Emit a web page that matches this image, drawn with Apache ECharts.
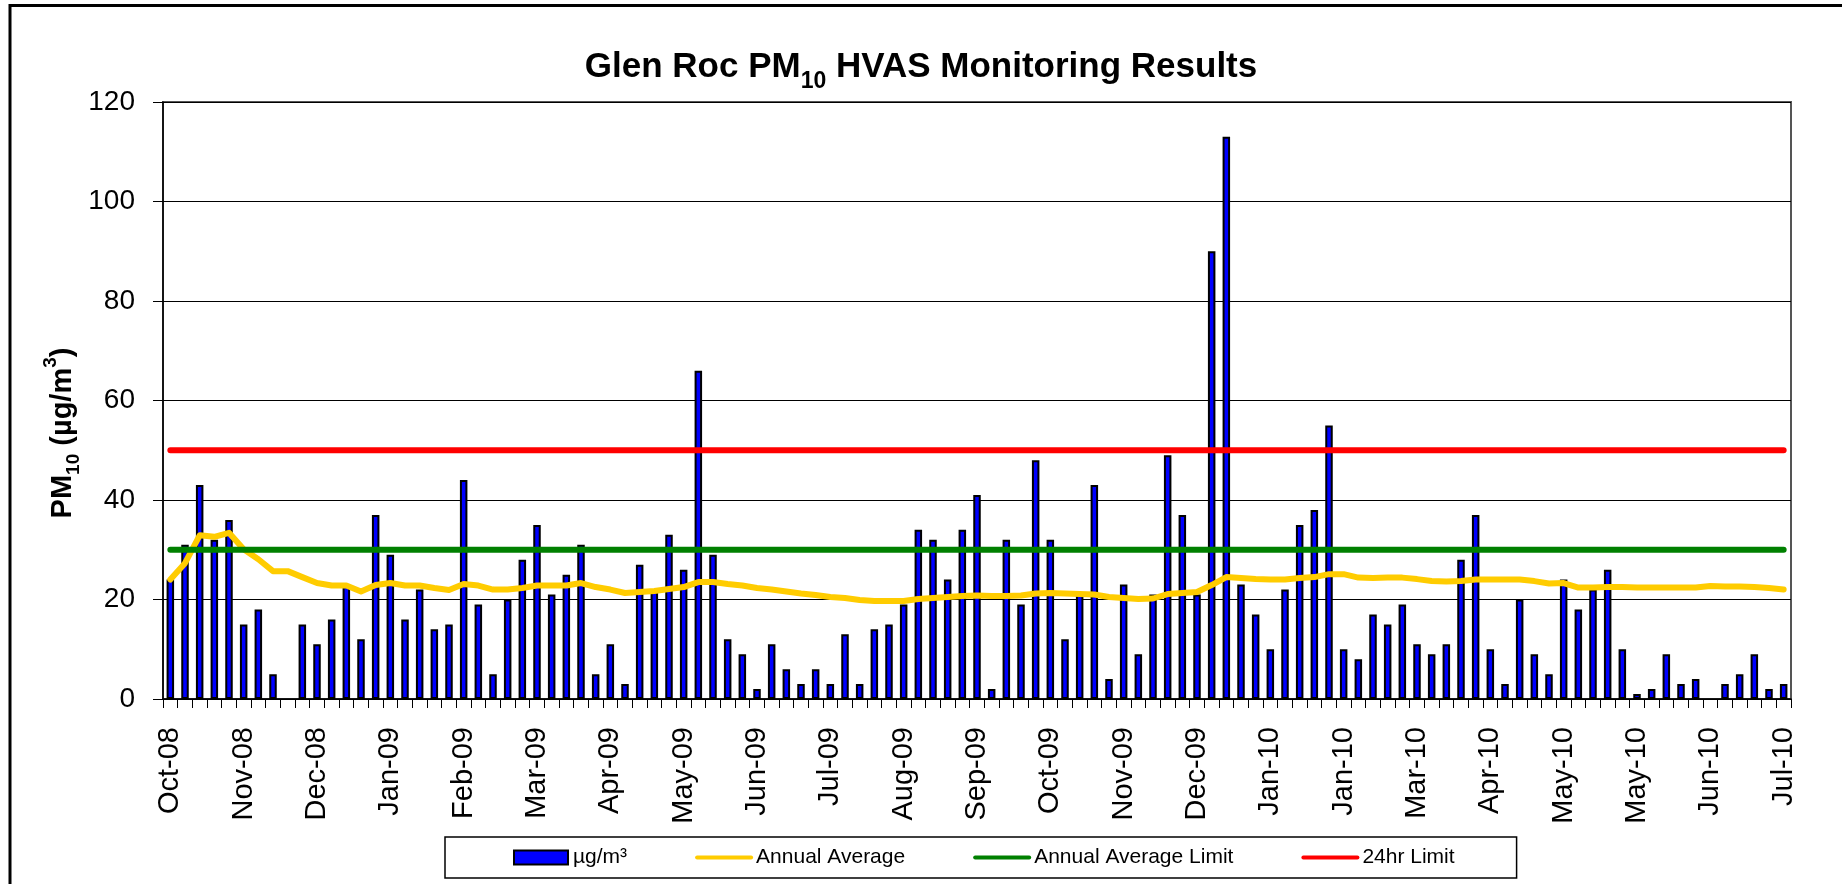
<!DOCTYPE html>
<html>
<head>
<meta charset="utf-8">
<title>Glen Roc PM10 HVAS Monitoring Results</title>
<script src="https://cdn.jsdelivr.net/npm/echarts@6/dist/echarts.min.js"></script>
<style>
	html,body{margin:0;padding:0;background:#fff;}
	#chart{width:1842px;height:884px;}
</style>
</head>
<body>
<div id="chart"></div>
<script>
//x轴刻度标签，每5个样本一个
var tickLabels = ["Oct-08","Nov-08","Dec-08","Jan-09","Feb-09","Mar-09","Apr-09","May-09","Jun-09","Jul-09","Aug-09","Sep-09",
	"Oct-09","Nov-09","Dec-09","Jan-10","Jan-10","Mar-10","Apr-10","May-10","May-10","Jun-10","Jul-10"];
//PM10 每次采样结果 µg/m³ (null = 无数据)
var pm10 = [24,31,43,32,36,15,18,5,null,15,
	11,16,23,12,37,29,16,22,14,15,
	44,19,5,20,28,35,21,25,31,5,
	11,3,27,22,33,26,66,29,12,9,
	2,11,6,3,6,3,13,3,14,15,
	19,34,32,24,34,41,2,32,19,48,
	32,12,21,43,4,23,9,21,49,37,
	21,90,113,23,17,10,22,35,38,55,
	10,8,17,15,19,11,9,11,28,37,
	10,3,20,9,5,24,18,22,26,10,
	1,2,9,3,4,null,3,5,9,2,3];
//年平均(滚动)
var annualAvg = [24,27.3,32.9,32.6,33.4,30.1,28.1,25.7,25.7,24.5,
	23.3,22.8,22.8,21.6,22.9,23.3,22.8,22.8,22.3,21.9,
	23.1,22.8,22.0,22.0,22.3,22.8,22.8,22.8,23.3,22.5,
	22.0,21.3,21.5,21.7,22.1,22.5,23.5,23.5,23.1,22.8,
	22.3,22.0,21.6,21.2,20.9,20.5,20.3,19.9,19.7,19.7,
	19.7,20.1,20.3,20.5,20.7,20.8,20.7,20.7,20.8,21.2,
	21.3,21.2,21.1,21.0,20.5,20.3,20.1,20.2,21.1,21.3,
	21.5,22.9,24.5,24.3,24.1,24.0,24.0,24.3,24.5,25.1,
	25.1,24.4,24.3,24.4,24.4,24.1,23.7,23.6,23.7,24.0,
	24.0,24.0,24.0,23.7,23.2,23.3,22.4,22.4,22.5,22.5,
	22.4,22.4,22.4,22.4,22.4,22.7,22.6,22.6,22.5,22.3,22.0];
var annualLimit = 30, dayLimit = 50;

var font = "'Liberation Sans', Arial, sans-serif";

//类目：只有每第5个显示月份
var cats = [];
for (var i = 0; i < pm10.length; i++) {
	cats.push(i % 5 == 0 ? tickLabels[i / 5] : "");
}
var annualLimitLine = cats.map(function(){ return annualLimit; });
var dayLimitLine = cats.map(function(){ return dayLimit; });

var myChart = echarts.init(document.getElementById("chart"));
myChart.setOption({
	backgroundColor: "#fff",
	animation: false,
	title: {
		text: "{a|Glen Roc PM}{s|10}{a| HVAS Monitoring Results}",
		left: "center",
		top: 45,
		textStyle: {
			rich: {
				a: {fontSize: 35, fontWeight: "bold", fontFamily: font, color: "#000", verticalAlign: "bottom", padding: [0,0,8,0]},
				s: {fontSize: 23, fontWeight: "bold", fontFamily: font, color: "#000", verticalAlign: "bottom"}
			}
		}
	},
	graphic: [{
		//外框
		type: "rect",
		shape: {x: 10, y: 5.5, width: 1900, height: 1000},
		style: {fill: "none", stroke: "#000", lineWidth: 3},
		silent: true
	}, {
		//y轴标题
		type: "text",
		x: 62,
		y: 433,
		rotation: Math.PI / 2,
		style: {
			text: "{a|PM}{s|10}{a| (µg/m}{p|3}{a|)}",
			align: "center",
			verticalAlign: "middle",
			rich: {
				a: {fontSize: 29, fontWeight: "bold", fontFamily: font, fill: "#000", verticalAlign: "bottom", padding: [7,0,6,0]},
				s: {fontSize: 19, fontWeight: "bold", fontFamily: font, fill: "#000", verticalAlign: "bottom"},
				p: {fontSize: 19, fontWeight: "bold", fontFamily: font, fill: "#000", verticalAlign: "top"}
			}
		}
	}],
	legend: {
		left: 445,
		top: 837,
		itemWidth: 54,
		itemHeight: 14,
		itemGap: 68,
		padding: [10, 62, 10, 68],
		borderColor: "#000",
		borderWidth: 1.5,
		textStyle: {fontSize: 21, fontFamily: font, color: "#000"},
		data: [
			{name: "µg/m³", icon: "rect", itemStyle: {color: "#0000ff", borderColor: "#000", borderWidth: 2}},
			{name: "Annual Average", itemStyle: {opacity: 0}, lineStyle: {width: 4}},
			{name: "Annual Average Limit", itemStyle: {opacity: 0}, lineStyle: {width: 4}},
			{name: "24hr Limit", itemStyle: {opacity: 0}, lineStyle: {width: 4}}
		]
	},
	grid: {
		left: 163,
		right: 51,
		top: 102,
		bottom: 185,
		show: true,
		borderColor: "#555",
		borderWidth: 2
	},
	xAxis: {
		type: "category",
		data: cats,
		boundaryGap: true,
		axisLine: {lineStyle: {color: "#000", width: 1.5}},
		axisTick: {show: true, interval: 0, length: 9, lineStyle: {color: "#000", width: 1}},
		axisLabel: {
			interval: function(idx){ return idx % 5 == 0; },
			rotate: 90,
			margin: 28,
			fontSize: 29,
			fontFamily: font,
			color: "#000"
		},
		splitLine: {show: false}
	},
	yAxis: {
		type: "value",
		min: 0,
		max: 120,
		interval: 20,
		axisLine: {show: true, lineStyle: {color: "#000", width: 1.5}},
		axisTick: {show: true, length: 10, lineStyle: {color: "#000", width: 1}},
		axisLabel: {margin: 28, fontSize: 28, fontFamily: font, color: "#000"},
		splitLine: {lineStyle: {color: "#000", width: 1}}
	},
	series: [{
		name: "µg/m³",
		type: "bar",
		data: pm10,
		barWidth: 7.5,
		itemStyle: {color: "#0000ff", borderColor: "#000", borderWidth: 2}
	}, {
		name: "Annual Average",
		type: "line",
		data: annualAvg,
		symbol: "none",
		itemStyle: {color: "#ffcc00"},
		lineStyle: {color: "#ffcc00", width: 6, cap: "round", join: "round"}
	}, {
		name: "Annual Average Limit",
		type: "line",
		data: annualLimitLine,
		symbol: "none",
		itemStyle: {color: "#008000"},
		lineStyle: {color: "#008000", width: 6, cap: "round"}
	}, {
		name: "24hr Limit",
		type: "line",
		data: dayLimitLine,
		symbol: "none",
		itemStyle: {color: "#ff0000"},
		lineStyle: {color: "#ff0000", width: 6, cap: "round"}
	}]
});
</script>
</body>
</html>
